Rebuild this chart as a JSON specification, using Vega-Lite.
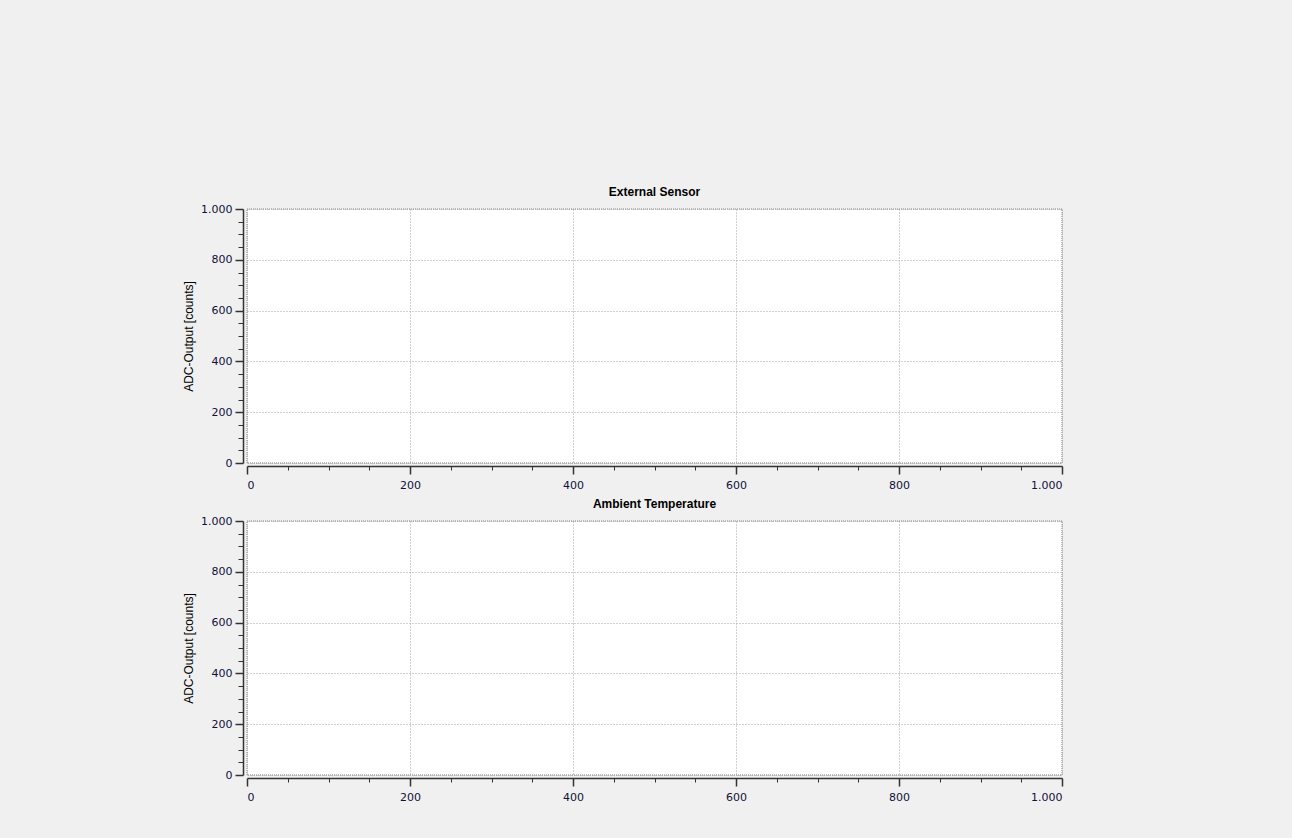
{
  "$schema": "https://vega.github.io/schema/vega-lite/v6.json",
  "background": "#f0f0f0",
  "padding": {"left": 181, "top": 185, "right": 229, "bottom": 35},
  "autosize": {"type": "pad"},
  "spacing": 6,
  "config": {
    "view": {"fill": "white", "stroke": "#a8a8a8", "strokeWidth": 1.5, "strokeDash": [1, 1]},
    "font": "Liberation Sans",
    "title": {"font": "Liberation Sans", "fontSize": 12, "fontWeight": "bold", "color": "#000000", "anchor": "middle", "offset": 4},
    "axis": {
      "labelFont": "DejaVu Sans",
      "labelFontSize": 11,
      "labelColor": "#10103a",
      "domainColor": "#333333",
      "domainWidth": 1.5,
      "tickColor": "#333333",
      "gridColor": "#a0a0a0",
      "gridDash": [1, 2],
      "gridWidth": 1,
      "titleFont": "Liberation Sans",
      "titleFontSize": 12,
      "titleFontWeight": "normal",
      "titleColor": "#000000"
    }
  },
  "vconcat": [
    {
      "title": "External Sensor",
      "width": 815,
      "height": 254,
      "data": {"values": []},
      "mark": {"type": "point"},
      "encoding": {
        "x": {
          "field": "sample", "type": "quantitative",
          "scale": {"domain": [0, 1000], "nice": false},
          "axis": {
            "title": null, "offset": 3, "labelPadding": 5,
            "values": [0, 50, 100, 150, 200, 250, 300, 350, 400, 450, 500, 550, 600, 650, 700, 750, 800, 850, 900, 950, 1000],
            "labelExpr": "datum.value % 200 === 0 ? replace(format(datum.value, ','), ',', '.') : ''",
            "tickSize": {"condition": {"test": "datum.value % 200 === 0", "value": 8}, "value": 4},
            "tickWidth": {"condition": {"test": "datum.value % 200 === 0", "value": 1.5}, "value": 1},
            "gridOpacity": {"condition": {"test": "datum.value % 200 === 0", "value": 1}, "value": 0}
          }
        },
        "y": {
          "field": "adc", "type": "quantitative",
          "scale": {"domain": [0, 1000], "nice": false},
          "axis": {
            "title": "ADC-Output [counts]", "offset": 4, "labelPadding": 3, "titlePadding": 5,
            "values": [0, 50, 100, 150, 200, 250, 300, 350, 400, 450, 500, 550, 600, 650, 700, 750, 800, 850, 900, 950, 1000],
            "labelExpr": "datum.value % 200 === 0 ? replace(format(datum.value, ','), ',', '.') : ''",
            "tickSize": {"condition": {"test": "datum.value % 200 === 0", "value": 8}, "value": 5},
            "tickWidth": {"condition": {"test": "datum.value % 200 === 0", "value": 1.5}, "value": 1},
            "gridOpacity": {"condition": {"test": "datum.value % 200 === 0", "value": 1}, "value": 0}
          }
        }
      }
    },
    {
      "title": "Ambient Temperature",
      "width": 815,
      "height": 254,
      "data": {"values": []},
      "mark": {"type": "point"},
      "encoding": {
        "x": {
          "field": "sample", "type": "quantitative",
          "scale": {"domain": [0, 1000], "nice": false},
          "axis": {
            "title": null, "offset": 3, "labelPadding": 5,
            "values": [0, 50, 100, 150, 200, 250, 300, 350, 400, 450, 500, 550, 600, 650, 700, 750, 800, 850, 900, 950, 1000],
            "labelExpr": "datum.value % 200 === 0 ? replace(format(datum.value, ','), ',', '.') : ''",
            "tickSize": {"condition": {"test": "datum.value % 200 === 0", "value": 8}, "value": 4},
            "tickWidth": {"condition": {"test": "datum.value % 200 === 0", "value": 1.5}, "value": 1},
            "gridOpacity": {"condition": {"test": "datum.value % 200 === 0", "value": 1}, "value": 0}
          }
        },
        "y": {
          "field": "temperature", "type": "quantitative",
          "scale": {"domain": [0, 1000], "nice": false},
          "axis": {
            "title": "ADC-Output [counts]", "offset": 4, "labelPadding": 3, "titlePadding": 5,
            "values": [0, 50, 100, 150, 200, 250, 300, 350, 400, 450, 500, 550, 600, 650, 700, 750, 800, 850, 900, 950, 1000],
            "labelExpr": "datum.value % 200 === 0 ? replace(format(datum.value, ','), ',', '.') : ''",
            "tickSize": {"condition": {"test": "datum.value % 200 === 0", "value": 8}, "value": 5},
            "tickWidth": {"condition": {"test": "datum.value % 200 === 0", "value": 1.5}, "value": 1},
            "gridOpacity": {"condition": {"test": "datum.value % 200 === 0", "value": 1}, "value": 0}
          }
        }
      }
    }
  ]
}
